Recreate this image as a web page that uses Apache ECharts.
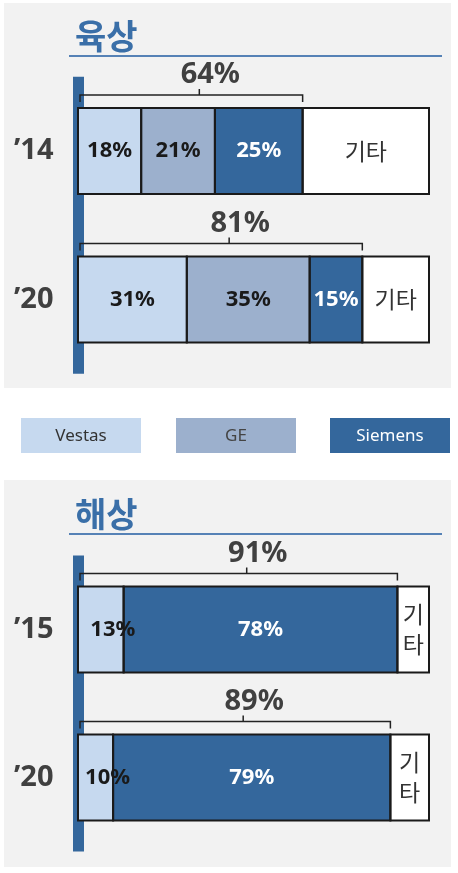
<!DOCTYPE html>
<html><head><meta charset="utf-8">
<script src="https://cdn.jsdelivr.net/npm/echarts@6/dist/echarts.min.js"></script>
<style>html,body{margin:0;padding:0;background:#fff}#c{width:458px;height:873px}</style>
</head><body><div id="c"></div>
<script>
// ---- data ----
const onshoreYears = ['’14', '’20'];
const onshoreVestas = [18, 31];
const onshoreGE = [21, 35];
const onshoreSiemens = [25, 15];
const onshoreOther = [36, 19];
const offshoreYears = ['’15', '’20'];
const offshoreVestas = [13, 10];
const offshoreSiemens = [78, 79];
const offshoreOther = [9, 11];
const companyNames = ['Vestas', 'GE', 'Siemens'];
const otherName = '기타';
const panelTitles = ['육상', '해상'];

// ---- styles ----
const C = { vestas: '#c6d9ef', ge: '#9cb0cd', siemens: '#34679c', other: '#ffffff',
  bg: '#f2f2f2', title: '#3a6fa8', rule: '#5682b6', text: '#404040', border: '#1a1a1a' };
const LATIN = '"Noto Sans", "Noto Sans CJK KR", sans-serif';
const KR = '"Noto Sans CJK KR", "Noto Sans", sans-serif';
const BAR_H = 86;

function pctSeries(name, data, g, color, labelColor, labelExtra) {
  return {
    name, type: 'bar', stack: 'st' + g, xAxisIndex: g, yAxisIndex: g, barWidth: BAR_H,
    data, z: 2,
    itemStyle: { color, borderWidth: 0 },
    label: Object.assign({ show: true, position: 'inside', formatter: p => p.value + '%',
      fontFamily: LATIN, fontWeight: 'bold', fontSize: 22, color: labelColor }, labelExtra || {})
  };
}
function otherSeries(data, g) {
  return {
    name: otherName, type: 'bar', stack: 'st' + g, xAxisIndex: g, yAxisIndex: g, barWidth: BAR_H,
    data, z: 2,
    itemStyle: { color: C.other, borderWidth: 0 },
    label: { show: true, position: 'inside',
      formatter: p => p.value < 12 ? otherName.split('').join('\n') : otherName,
      fontFamily: KR, fontSize: 23, lineHeight: 30, color: '#333' }
  };
}
// outlines of every stacked segment, drawn from the same values
function outlineSeries(segs, g) {
  const n = segs[0].length;
  const data = [];
  for (let i = 0; i < n; i++) {
    let acc = 0;
    const row = [i, 0];
    segs.forEach(s => { acc += s[i]; row.push(acc); });
    data.push(row);
  }
  return {
    type: 'custom', xAxisIndex: g, yAxisIndex: g, z: 3, silent: true,
    encode: { x: 1, y: 0 }, data,
    renderItem(params, api) {
      const cat = api.value(0);
      const children = [];
      for (let k = 1; k <= segs.length; k++) {
        const a = api.coord([api.value(k), cat]);
        const b = api.coord([api.value(k + 1), cat]);
        children.push({ type: 'rect',
          shape: { x: a[0], y: a[1] - BAR_H / 2, width: b[0] - a[0], height: BAR_H },
          style: { fill: 'none', stroke: C.border, lineWidth: 2 } });
      }
      return { type: 'group', children };
    }
  };
}
function bracketSeries(totals, g) {
  return {
    type: 'custom', xAxisIndex: g, yAxisIndex: g, z: 5,
    data: totals.map((t, i) => [t, i]),
    renderItem(params, api) {
      const total = api.value(0), cat = api.value(1);
      const end = api.coord([total, cat]);
      const start = api.coord([0, cat]);
      const top = end[1] - BAR_H / 2;
      const y = top - 13;
      const x0 = start[0] + 2, x1 = end[0];
      const mid = (x0 + x1) / 2 + 8;
      return { type: 'group', children: [
        { type: 'polyline', shape: { points: [[x0, y + 7], [x0, y], [mid, y], [mid, y - 6], [mid, y], [x1, y], [x1, y + 7]] },
          style: { stroke: '#222', lineWidth: 1.5, fill: null } },
        { type: 'text', x: mid + 11, y: y - 20,
          style: { text: total + '%', fill: C.text, font: 'bold 29px ' + LATIN,
            align: 'center', verticalAlign: 'middle', textAlign: 'center', textVerticalAlign: 'middle' } }
      ] };
    }
  };
}
const sum = (...arrs) => arrs[0].map((_, i) => arrs.reduce((s, a) => s + a[i], 0));

function yAx(data, g) {
  return { type: 'category', gridIndex: g, data, inverse: true, offset: 6.5,
    axisLine: { show: true, lineStyle: { color: C.siemens, width: 11, cap: 'butt' } },
    axisTick: { show: false },
    axisLabel: { margin: 18, fontFamily: LATIN, fontWeight: 'bold', fontSize: 29, color: C.text } };
}
const xAx = g => ({ type: 'value', gridIndex: g, min: 0, max: 100, show: false });

function panel(y, h, title, titleBottom, ruleY) {
  return [
    { type: 'rect', z: -10, shape: { x: 4, y, width: 447, height: h }, style: { fill: C.bg } },
    { type: 'text', z: -5, x: 75, y: titleBottom,
      style: { text: title, fill: C.title, font: 'bold 34px ' + KR, textVerticalAlign: 'bottom', verticalAlign: 'bottom' } },
    { type: 'line', z: -5, shape: { x1: 69, y1: ruleY, x2: 442, y2: ruleY }, style: { stroke: C.rule, lineWidth: 2 } }
  ];
}
const legendColors = [C.vestas, C.ge, C.siemens];
const legendText = ['#333', '#444', '#fff'];
const legendX = [21, 176, 330];
const legendEls = companyNames.map((n, i) => ({
  type: 'group', x: legendX[i], y: 418, children: [
    { type: 'rect', shape: { x: 0, y: 0, width: 120, height: 35 }, style: { fill: legendColors[i] } },
    { type: 'text', x: 60, y: 18, style: { text: n, fill: legendText[i], font: '17px ' + LATIN,
      align: 'center', verticalAlign: 'middle', textAlign: 'center', textVerticalAlign: 'middle' } }
  ] }));

const chart = echarts.init(document.getElementById('c'));
chart.setOption({
  animation: false,
  grid: [
    { left: 78, width: 351, top: 76.75, height: 297 },
    { left: 78, width: 351, top: 555.5, height: 296 }
  ],
  xAxis: [xAx(0), xAx(1)],
  yAxis: [yAx(onshoreYears, 0), yAx(offshoreYears, 1)],
  graphic: [].concat(panel(3, 385, panelTitles[0], 53, 56), panel(480, 387, panelTitles[1], 531, 534), legendEls),
  series: [
    pctSeries(companyNames[0], onshoreVestas, 0, C.vestas, '#1a1a1a'),
    pctSeries(companyNames[1], onshoreGE, 0, C.ge, '#1a1a1a'),
    pctSeries(companyNames[2], onshoreSiemens, 0, C.siemens, '#fff'),
    otherSeries(onshoreOther, 0),
    outlineSeries([onshoreVestas, onshoreGE, onshoreSiemens, onshoreOther], 0),
    bracketSeries(sum(onshoreVestas, onshoreGE, onshoreSiemens), 0),
    pctSeries(companyNames[0], offshoreVestas, 1, C.vestas, '#1a1a1a', { offset: [12, 0] }),
    pctSeries(companyNames[2], offshoreSiemens, 1, C.siemens, '#fff'),
    otherSeries(offshoreOther, 1),
    outlineSeries([offshoreVestas, offshoreSiemens, offshoreOther], 1),
    bracketSeries(sum(offshoreVestas, offshoreSiemens), 1)
  ]
});
</script></body></html>
